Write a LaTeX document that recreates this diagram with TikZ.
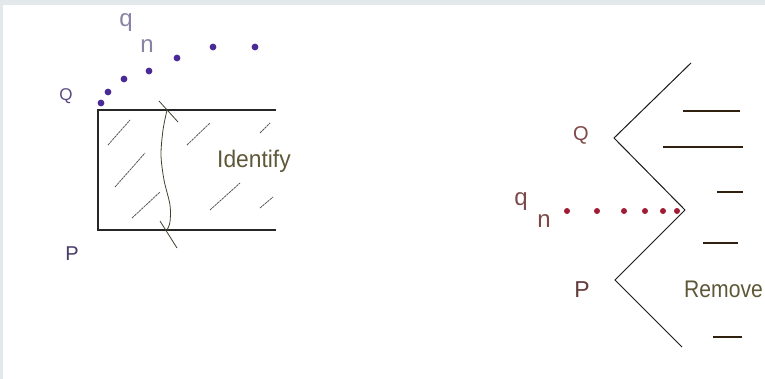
\documentclass[tikz,border=0pt]{standalone}
\usepackage{fontspec}
\setmainfont{Liberation Sans}
\usetikzlibrary{positioning}
\definecolor{framegray}{HTML}{E3E9EB}
\definecolor{dotpurple}{HTML}{4A2A96}
\definecolor{dotred}{HTML}{A01C34}
\definecolor{labpurple}{HTML}{5A4A80}
\definecolor{labred}{HTML}{7E4848}
\definecolor{wordolive}{HTML}{5E5838}

\begin{document}
\begin{tikzpicture}[x=1pt, y=-1pt,
    strip/.style={line width=1.7pt, black!85},
    zigzag/.style={line width=1pt, black!90},
    dashmark/.style={line width=1.4pt, black!75!brown},
    hatch/.style={line width=0.8pt, black!65, dash pattern=on 2.5pt off 0.7pt},
    crease/.style={line width=0.8pt, black!70!olive},
    word/.style={font=\fontsize{24}{24}\selectfont, text=wordolive, anchor=base west, inner sep=0pt},
    letter/.style={font=\fontsize{#1}{#1}\selectfont, anchor=base, inner sep=0pt},
]
  \useasboundingbox (0,0) rectangle (765,379);
  \fill[white] (0,0) rectangle (765,379);
  \fill[framegray] (0,0) rectangle (765,5);
  \fill[framegray] (0,0) rectangle (3,379);

  % left picture: the strip
  \draw[strip] (276,110) -- (98,110) -- (98,230) -- (276,230);
  \foreach \xa/\ya/\xb/\yb in {108/145/130/120, 115/187/145/153, 132/218/160/192,
      187/145/210/123, 260/133/270/123, 210/210/240/183, 260/208/273/197}
    \draw[hatch] (\xa,\ya) -- (\xb,\yb);
  \draw[crease] plot[smooth] coordinates {(167,110) (163,130) (161,155) (164,180) (170,205) (170,222) (167,230)};
  \draw[crease] (159,101) -- (178,122);
  \draw[crease] (160,221) -- (177,248);
  \foreach \x/\y in {101/103, 108/92, 124/79, 149/71, 177/58, 213/47, 255/47}
    \fill[dotpurple] (\x,\y) circle[radius=3.4pt];
  \node[letter=17, text=labpurple] (Ql) at (66,101) {Q};
  \node[letter=20, text=labpurple!80!black] (Pl) at (72,261) {P};
  \node[letter=24, text=labpurple!70] (ql) at (126,27) {q};
  \node[letter=24, text=labpurple!70] (nl) at (147,53) {n};
  \node[word] (identify) at (217,168) {\scalebox{0.95}[1]{Identify}};

  % right picture: the zigzag
  \draw[zigzag] (691,63) -- (614,138) -- (685,210) -- (615,280) -- (682,347);
  \foreach \xa/\xb/\y in {683/740/111, 663/743/147, 717/743/192, 703/738/243, 713/742/337}
    \draw[dashmark] (\xa,\y) -- (\xb,\y);
  \foreach \x in {567, 597, 624, 645, 663, 677}
    \fill[dotred] (\x,211) circle[radius=3pt];
  \node[letter=20, text=labred] (Qr) at (581,141) {Q};
  \node[letter=23, text=labred!80!black] (Pr) at (582,297) {P};
  \node[letter=24, text=labred] (qr) at (521,206) {q};
  \node[letter=24, text=labred] (nr) at (544,228) {n};
  \node[word] (remove) at (684,297) {\scalebox{0.88}[1]{Remove}};
\end{tikzpicture}
\end{document}
